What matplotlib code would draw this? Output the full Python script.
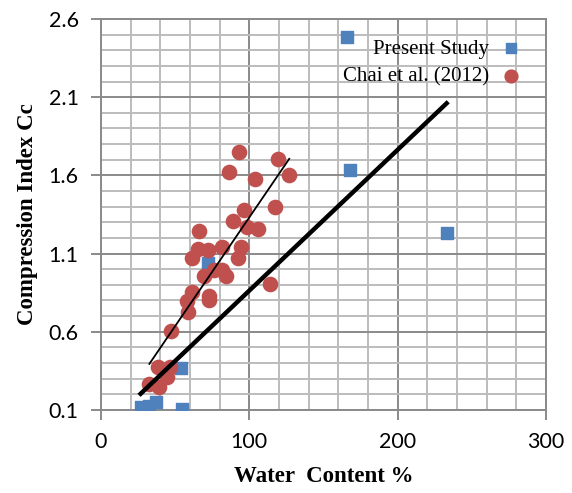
import numpy as np
import matplotlib.pyplot as plt
from matplotlib.ticker import MultipleLocator, FixedLocator

# present study (water content %, Cc)
wc_present = [26.7, 32.6, 37.1, 54.4, 54.0, 72.0, 166.0, 168.0, 233.0]
cc_present = [0.12, 0.125, 0.153, 0.106, 0.37, 1.04, 2.485, 1.635, 1.232]

# Chai et al. (2012)
wc_chai = [93.2, 119.1, 126.9, 86.5, 104.0, 117.3, 96.2, 89.2, 98.4, 106.1,
           66.3, 65.2, 72.3, 81.8, 94.2, 61.6, 92.3, 69.4, 76.4, 81.8,
           84.3, 113.9, 61.1, 73.0, 73.0, 58.2, 58.4, 47.0, 38.6, 46.5,
           44.3, 32.6, 39.3]
cc_chai = [1.752, 1.703, 1.604, 1.622, 1.579, 1.40, 1.377, 1.306, 1.272, 1.255,
           1.245, 1.129, 1.123, 1.14, 1.14, 1.07, 1.07, 0.957, 0.995, 0.995,
           0.957, 0.904, 0.856, 0.83, 0.80, 0.797, 0.725, 0.605, 0.373, 0.373,
           0.309, 0.266, 0.249]

x_ticks = [0, 100, 200, 300]
y_ticks = [0.1, 0.6, 1.1, 1.6, 2.1, 2.6]

blue = '#4f81bd'
red = '#c0504d'

fig = plt.figure(figsize=(5.72, 4.93), dpi=100)
ax = fig.add_axes([0.1766, 0.1684, 0.7779, 0.7931])

ax.scatter(wc_present, cc_present, marker='s', s=72, color=blue, zorder=3,
           label='Present Study')
ax.scatter(wc_chai, cc_chai, marker='o', s=105, color=red, zorder=3,
           label='Chai et al. (2012)')

# linear trendlines over the range of each data set
for wc, cc, lw in [(wc_present, cc_present, 3.2), (wc_chai, cc_chai, 1.3)]:
    k, b = np.polyfit(wc, cc, 1)
    xs = np.array([min(wc), max(wc)])
    ax.plot(xs, k * xs + b, color='black', lw=lw, zorder=4)

ax.set_xlim(0, 300)
ax.set_ylim(0.1, 2.6)
ax.xaxis.set_major_locator(FixedLocator(x_ticks))
ax.yaxis.set_major_locator(FixedLocator(y_ticks))
ax.xaxis.set_minor_locator(MultipleLocator(20))
ax.yaxis.set_minor_locator(MultipleLocator(0.1))
ax.set_yticklabels([f'{v:.1f}' for v in y_ticks])

ax.grid(which='minor', color='#bcbcbc', lw=1.4, zorder=0)
ax.grid(which='major', color='#8a8a8a', lw=1.4, zorder=1)
ax.set_axisbelow(True)
for s in ax.spines.values():
    s.set_color('#8a8a8a')
    s.set_linewidth(1.4)

ax.tick_params(which='major', direction='out', length=7, width=1.4,
               color='#8a8a8a', labelsize=15.5, pad=9)
ax.tick_params(which='minor', length=0)
for lab in ax.get_xticklabels() + ax.get_yticklabels():
    lab.set_family('Lato')

ax.set_xlabel('Water  Content %', family='Liberation Serif', fontweight='bold',
              fontsize=16.5, labelpad=10)
ax.set_ylabel('Compression Index Cc', family='Liberation Serif',
              fontweight='bold', fontsize=16.5, labelpad=8)

ax.legend(loc='upper right', bbox_to_anchor=(0.964, 0.97), frameon=False,
          markerfirst=False, prop={'family': 'Liberation Serif', 'size': 15},
          handlelength=1.0, handletextpad=0.55, labelspacing=0.4,
          borderaxespad=0, markerscale=0.9)

fig.savefig('out.png', dpi=100)
